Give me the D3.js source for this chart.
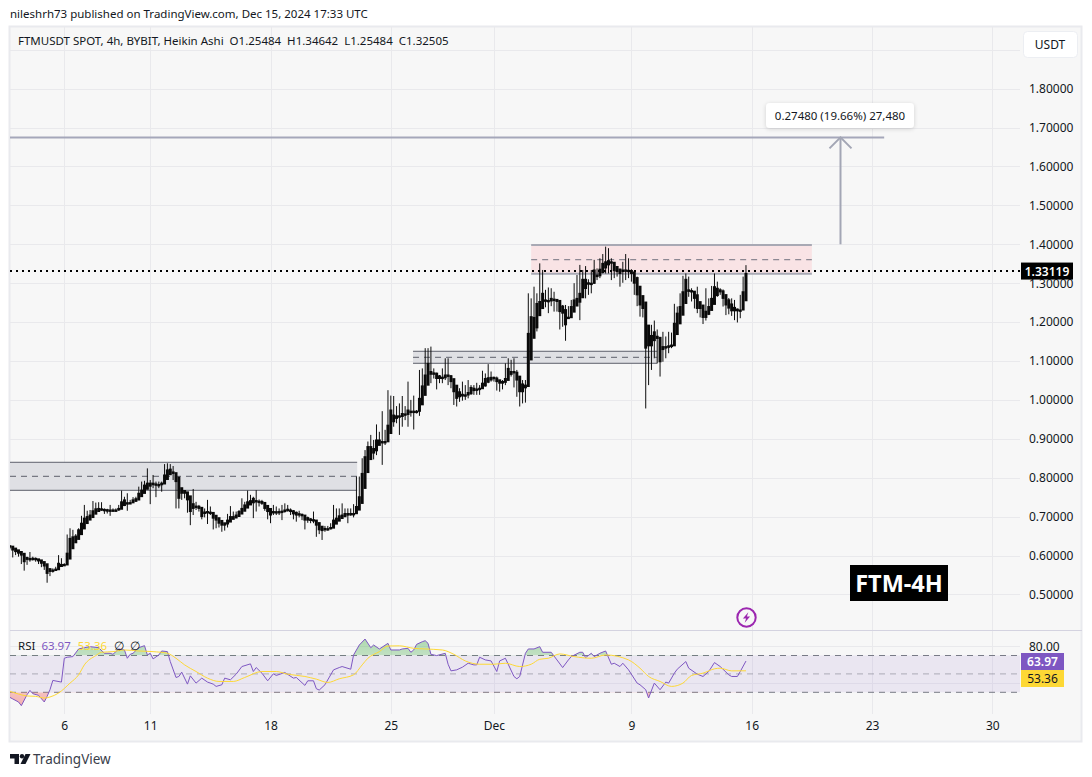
<!DOCTYPE html>
<html>
<head>
<meta charset="utf-8">
<script src="https://d3js.org/d3.v7.min.js"></script>
<style>
  html, body { margin: 0; padding: 0; background: #fff; }
  svg { display: block; }
  text { font-family: "Noto Sans", sans-serif; fill: #131722; }
</style>
</head>
<body>
<div id="chart"></div>
<script>
// 4h Heikin Ashi bars. First bar sits just left of the pane
const barStart = Date.UTC(2024, 10, 2, 16)
const rsiStart = Date.UTC(2024, 10, 2, 20)
const barHours = 4

const closes = [
  0.625, 0.623, 0.614, 0.610, 0.606, 0.601, 0.584, 0.590, 0.592, 0.593, 0.590, 0.586, 0.580, 0.573, 0.554, 0.559,
  0.561, 0.565, 0.580, 0.577, 0.577, 0.606, 0.644, 0.648, 0.650, 0.666, 0.683, 0.696, 0.700, 0.704, 0.715, 0.720,
  0.721, 0.720, 0.717, 0.714, 0.717, 0.717, 0.717, 0.721, 0.738, 0.743, 0.734, 0.736, 0.743, 0.746, 0.760, 0.768,
  0.781, 0.786, 0.786, 0.786, 0.781, 0.781, 0.786, 0.807, 0.820, 0.822, 0.811, 0.790, 0.747, 0.760, 0.760, 0.743,
  0.713, 0.721, 0.726, 0.721, 0.700, 0.708, 0.713, 0.710, 0.696, 0.691, 0.683, 0.678, 0.678, 0.691, 0.700, 0.700,
  0.704, 0.713, 0.721, 0.730, 0.738, 0.741, 0.747, 0.738, 0.738, 0.734, 0.721, 0.713, 0.704, 0.713, 0.710, 0.713,
  0.714, 0.717, 0.719, 0.713, 0.707, 0.704, 0.704, 0.702, 0.691, 0.691, 0.690, 0.690, 0.678, 0.666, 0.664, 0.667,
  0.669, 0.672, 0.691, 0.696, 0.702, 0.704, 0.708, 0.708, 0.708, 0.708, 0.726, 0.751, 0.811, 0.854, 0.880,
  0.880, 0.875, 0.897, 0.897, 0.893, 0.893, 0.935, 0.974, 0.961, 0.959, 0.959, 0.965, 0.964, 0.974, 0.971, 0.971,
  0.971, 1.004, 1.036, 1.064, 1.094, 1.073, 1.068, 1.055, 1.055, 1.055, 1.064, 1.064, 1.047, 1.021, 1.004, 1.008,
  1.010, 1.013, 1.019, 1.032, 1.030, 1.028, 1.030, 1.043, 1.055, 1.057, 1.058, 1.058, 1.047, 1.043, 1.043, 1.055,
  1.081, 1.073, 1.073, 1.051, 1.021, 1.021, 1.038,
  1.171, 1.214, 1.212, 1.248, 1.253, 1.274, 1.257, 1.253, 1.261, 1.259, 1.253, 1.227, 1.223, 1.193, 1.210, 1.240,
  1.257, 1.261, 1.274, 1.310, 1.310, 1.301, 1.300, 1.334, 1.321, 1.336, 1.351, 1.355, 1.358, 1.355, 1.332, 1.330,
  1.325, 1.334, 1.334, 1.332, 1.325, 1.300, 1.270, 1.244, 1.235, 1.133, 1.139, 1.139, 1.175, 1.158, 1.098, 1.137,
  1.137, 1.139, 1.141, 1.197, 1.223, 1.240, 1.278, 1.310, 1.283, 1.278, 1.261, 1.235, 1.235, 1.212, 1.212, 1.240,
  1.261, 1.291, 1.287, 1.283, 1.261, 1.244, 1.236, 1.229, 1.229, 1.229, 1.231, 1.278, 1.32505
]

const highs = [
  0.630, 0.627, 0.621, 0.618, 0.610, 0.606, 0.597, 0.597, 0.609, 0.597, 0.595, 0.590, 0.587, 0.580, 0.567, 0.563,
  0.567, 0.571, 0.601, 0.593, 0.580, 0.654, 0.670, 0.666, 0.655, 0.670, 0.702, 0.730, 0.715, 0.717, 0.740, 0.736,
  0.737, 0.737, 0.721, 0.720, 0.730, 0.721, 0.721, 0.730, 0.767, 0.751, 0.760, 0.743, 0.750, 0.751, 0.777, 0.790,
  0.792, 0.824, 0.794, 0.807, 0.790, 0.790, 0.790, 0.835, 0.837, 0.835, 0.830, 0.796, 0.768, 0.768, 0.764, 0.751,
  0.734, 0.771, 0.738, 0.730, 0.721, 0.721, 0.743, 0.726, 0.704, 0.696, 0.691, 0.683, 0.683, 0.707, 0.727, 0.713,
  0.713, 0.717, 0.747, 0.738, 0.767, 0.756, 0.751, 0.768, 0.744, 0.743, 0.732, 0.721, 0.717, 0.730, 0.726, 0.721,
  0.730, 0.734, 0.730, 0.721, 0.717, 0.713, 0.715, 0.708, 0.704, 0.700, 0.696, 0.713, 0.691, 0.678, 0.672, 0.676,
  0.676, 0.683, 0.730, 0.721, 0.721, 0.734, 0.721, 0.721, 0.721, 0.732, 0.803, 0.803, 0.850, 0.871, 0.893,
  0.910, 0.897, 0.937, 0.918, 0.971, 0.923, 1.025, 1.011, 1.010, 0.984, 0.991, 1.010, 0.984, 1.047, 1.000, 1.011,
  0.974, 1.077, 1.081, 1.133, 1.133, 1.137, 1.081, 1.070, 1.064, 1.081, 1.107, 1.107, 1.064, 1.051, 1.038, 1.030,
  1.047, 1.038, 1.051, 1.038, 1.038, 1.044, 1.038, 1.075, 1.068, 1.092, 1.073, 1.060, 1.060, 1.051, 1.051, 1.094,
  1.107, 1.103, 1.107, 1.077, 1.055, 1.051, 1.051,
  1.274, 1.261, 1.291, 1.274, 1.351, 1.334, 1.283, 1.289, 1.287, 1.278, 1.257, 1.244, 1.244, 1.244, 1.241, 1.257,
  1.300, 1.321, 1.347, 1.334, 1.344, 1.310, 1.334, 1.360, 1.338, 1.364, 1.375, 1.394, 1.390, 1.364, 1.343, 1.341,
  1.336, 1.355, 1.375, 1.364, 1.336, 1.321, 1.317, 1.267, 1.253, 1.238, 1.145, 1.193, 1.204, 1.181, 1.145, 1.175,
  1.163, 1.175, 1.173, 1.247, 1.240, 1.274, 1.319, 1.325, 1.317, 1.287, 1.274, 1.291, 1.244, 1.244, 1.287, 1.261,
  1.293, 1.325, 1.304, 1.287, 1.284, 1.265, 1.262, 1.261, 1.257, 1.235, 1.270, 1.317, 1.34642
]

const lows = [
  0.618, 0.616, 0.595, 0.601, 0.597, 0.578, 0.561, 0.576, 0.584, 0.587, 0.584, 0.578, 0.570, 0.563, 0.530, 0.547,
  0.556, 0.561, 0.567, 0.573, 0.576, 0.595, 0.621, 0.640, 0.644, 0.653, 0.667, 0.687, 0.691, 0.698, 0.704, 0.713,
  0.715, 0.715, 0.707, 0.708, 0.702, 0.713, 0.713, 0.715, 0.727, 0.727, 0.715, 0.732, 0.736, 0.738, 0.751, 0.758,
  0.767, 0.770, 0.732, 0.773, 0.750, 0.773, 0.764, 0.786, 0.807, 0.807, 0.794, 0.721, 0.721, 0.743, 0.747, 0.710,
  0.678, 0.704, 0.717, 0.713, 0.693, 0.698, 0.681, 0.704, 0.667, 0.670, 0.672, 0.661, 0.664, 0.672, 0.691, 0.693,
  0.696, 0.707, 0.713, 0.721, 0.730, 0.734, 0.696, 0.713, 0.726, 0.730, 0.715, 0.693, 0.683, 0.704, 0.704, 0.704,
  0.691, 0.710, 0.713, 0.704, 0.693, 0.687, 0.698, 0.691, 0.667, 0.684, 0.683, 0.683, 0.648, 0.655, 0.640, 0.661,
  0.664, 0.667, 0.683, 0.687, 0.696, 0.698, 0.704, 0.683, 0.702, 0.698, 0.710, 0.744, 0.773, 0.833, 0.863,
  0.871, 0.847, 0.858, 0.893, 0.833, 0.884, 0.893, 0.923, 0.931, 0.940, 0.910, 0.931, 0.948, 0.931, 0.957, 0.924,
  0.965, 0.959, 0.987, 1.038, 1.060, 1.043, 1.055, 1.027, 1.043, 1.043, 1.051, 1.038, 1.030, 0.987, 0.983, 0.995,
  0.998, 1.000, 1.004, 1.013, 1.013, 1.013, 1.013, 1.030, 1.034, 1.043, 1.047, 1.047, 1.024, 1.021, 1.027, 1.038,
  1.051, 1.060, 1.032, 1.008, 0.983, 0.991, 0.993,
  1.103, 1.163, 1.180, 1.176, 1.218, 1.238, 1.238, 1.223, 1.241, 1.227, 1.227, 1.181, 1.188, 1.152, 1.210, 1.218,
  1.235, 1.244, 1.205, 1.270, 1.261, 1.270, 1.274, 1.298, 1.308, 1.313, 1.325, 1.325, 1.325, 1.308, 1.313, 1.317,
  1.291, 1.301, 1.308, 1.313, 1.304, 1.270, 1.241, 1.214, 1.212, 0.978, 1.038, 1.077, 1.107, 1.094, 1.060, 1.098,
  1.107, 1.120, 1.133, 1.141, 1.167, 1.197, 1.223, 1.253, 1.265, 1.253, 1.235, 1.223, 1.212, 1.195, 1.204, 1.218,
  1.240, 1.267, 1.265, 1.270, 1.240, 1.218, 1.220, 1.216, 1.205, 1.199, 1.210, 1.231, 1.25484
]

// RSI and its moving average, vertices as [bar number] + [value]
const rsiBars = [
  0, 1, 3, 4, 6, 7, 8, 10, 12, 13, 14, 15, 18, 19, 20, 22, 24, 26, 28, 31, 33, 35, 36, 38, 40, 41, 42, 43, 45, 47, 48, 49,
  50, 52, 53, 55, 56, 58, 59, 60, 62, 63, 65, 67, 69, 71, 72, 74, 75, 77, 79, 81, 84, 85, 86, 88, 90, 92, 93, 96, 99, 100,
  103, 104, 106, 107, 108, 110, 113, 115, 116, 119, 120, 122, 124, 126, 127, 129, 132, 133, 136, 137, 139, 140, 141, 142,
  144, 145, 146, 147, 149, 152, 153, 154, 156, 158, 160, 162, 163, 164, 166, 168, 170, 171, 173, 176, 177, 178, 180, 181,
  183, 185, 186, 189, 191, 193, 195, 196, 199, 200, 201, 203, 204, 206, 208, 210, 211, 213, 214, 216, 219, 220, 222, 223,
  225, 227, 229, 230, 232, 233, 236, 237, 240, 242, 244, 246, 248, 251, 252, 254, 255, 257
]
const rsiValues = [
  24.5, 22.8, 19.5, 15.5, 27.4, 32.1, 28.5, 26.7, 19.5, 25.6, 32.8, 42.9, 41.1, 67, 68.1, 68.8, 77.1, 78.5, 79.6, 78.5, 72.4, 72.4,
  71.3, 77.1, 76, 67, 71.3, 72.4, 78.5, 80.7, 70.6, 72.4, 66.3, 70.6, 74.9, 74.2, 63.4, 46.1, 47.2, 51.9, 38.9, 47.9, 40, 45.4, 41.1,
  38.9, 36.4, 38.2, 45.4, 43.6, 49.7, 58, 60.9, 52.6, 56.9, 50.8, 42.5, 50.1, 48.3, 51.5, 45.4, 46.1, 37.5, 42.5, 42.5, 33.9, 32.4,
  38.2, 54.4, 56.9, 58, 55.1, 70.6, 81.4, 87.9, 78.5, 81.4, 77.1, 83.2, 76, 76, 77.1, 77.8, 73.5, 76, 82.1, 85, 86.1, 83.2, 71.3,
  69.9, 72.4, 60.5, 53.3, 54.4, 57.3, 61.6, 59.8, 59.8, 68.1, 65.2, 64.1, 52.6, 64.1, 67, 47.2, 44.7, 47.2, 72.4, 77.1, 77.1, 79.6,
  73.5, 73.5, 65.2, 56.9, 65.2, 68.8, 73.5, 73.5, 67.7, 72.4, 68.8, 72.4, 74.9, 60.5, 61.6, 58, 61.6, 54.4, 40, 38.2, 32.8, 23.8,
  40, 32.8, 41.1, 40, 50.8, 55.1, 63.4, 56.2, 49.7, 47.2, 52.6, 62.3, 58, 49, 47.2, 47.2, 52.6, 63.97
]
const maBars = [
  0, 3, 6, 9, 12, 14, 17, 21, 24, 26, 30, 32, 36, 40, 45, 50, 55, 58, 61, 65, 69, 73, 78, 82, 88, 93, 97, 103, 107, 111, 115, 120,
  123, 125, 129, 132, 136, 141, 145, 151, 155, 159, 164, 169, 173, 178, 182, 185, 188, 192, 197, 203, 208, 216, 220, 223, 227, 231,
  235, 238, 242, 246, 248, 252, 257
]
const maValues = [
  31, 28.1, 26, 25.6, 23.8, 24.9, 29.2, 40, 49, 59.8, 69.9, 73.5, 74.2, 76, 74.9, 74.2, 72.4, 67, 59.8, 52.6, 45.4, 41.8, 41.8, 46.1,
  52.6, 52.6, 49.7, 47.2, 44.3, 40.7, 44.7, 49, 59.8, 67, 74.2, 80.3, 80.5, 77.8, 77.1, 76, 71.3, 64.1, 60.5, 60.5, 61.6, 58, 60.5,
  65.9, 67, 71.7, 68.8, 67, 70.6, 65.2, 56.2, 47.2, 41.8, 36.4, 40, 48.3, 50.8, 55.5, 56.2, 53.3, 53.36
]

// axis ticks
const priceTicks = [0.5, 0.6, 0.7, 0.8, 0.9, 1.0, 1.1, 1.2, 1.3, 1.4, 1.5, 1.6, 1.7, 1.8]
const priceGridExtra = [1.9]
const timeTicks = [
  Date.UTC(2024, 10, 6), Date.UTC(2024, 10, 11), Date.UTC(2024, 10, 18), Date.UTC(2024, 10, 25),
  Date.UTC(2024, 11, 1), Date.UTC(2024, 11, 9), Date.UTC(2024, 11, 16), Date.UTC(2024, 11, 23), Date.UTC(2024, 11, 30)
]
const timeLabels = ["6", "11", "18", "25", "Dec", "9", "16", "23", "30"]
const rsiTicks = [80, 40]

// drawn zones: [start, end, top, mid, bottom]
const zoneLow = [Date.UTC(2024, 9, 30), Date.UTC(2024, 10, 23, 1), 0.8396, 0.8036, 0.7676]
const zoneMid = [Date.UTC(2024, 10, 26, 7), Date.UTC(2024, 11, 10, 12), 1.125, 1.1095, 1.0941]
const zoneHigh = [Date.UTC(2024, 11, 3, 4), Date.UTC(2024, 11, 19, 12), 1.398, 1.3604, 1.3244]

// target line and the arrow up to it
const targetLine = [Date.UTC(2024, 9, 30), Date.UTC(2024, 11, 23, 17), 1.6748]
const arrowTime = Date.UTC(2024, 11, 21, 4)
const arrowFrom = 1.4
const lastPrice = 1.33119

const legendText = "FTMUSDT SPOT, 4h, BYBIT, Heikin Ashi\u00a0\u00a0O1.25484\u00a0\u00a0H1.34642\u00a0\u00a0L1.25484\u00a0\u00a0C1.32505"

const width = 1092, height = 777
const frame = { left: 10, right: 1081, top: 27, bottom: 741 }
const plotRight = 1020
const paneBreak = 630.5
const gridBottom = 714
const gridColor = "#e9e9ec"
const labelSize = 11.5

const svg = d3.select("#chart").append("svg")
  .attr("width", width)
  .attr("height", height)

const defs = svg.append("defs")
defs.append("clipPath").attr("id", "priceClip").append("rect")
  .attr("x", frame.left).attr("y", frame.top)
  .attr("width", plotRight - frame.left).attr("height", paneBreak - frame.top)
defs.append("clipPath").attr("id", "rsiClip").append("rect")
  .attr("x", frame.left).attr("y", paneBreak)
  .attr("width", plotRight - frame.left).attr("height", gridBottom - paneBreak)

const green = defs.append("linearGradient").attr("id", "obFill").attr("x1", 0).attr("x2", 0).attr("y1", 0).attr("y2", 1)
green.append("stop").attr("offset", "0%").attr("stop-color", "#4caf50").attr("stop-opacity", 0.42)
green.append("stop").attr("offset", "100%").attr("stop-color", "#4caf50").attr("stop-opacity", 0)
const red = defs.append("linearGradient").attr("id", "osFill").attr("x1", 0).attr("x2", 0).attr("y1", 0).attr("y2", 1)
red.append("stop").attr("offset", "0%").attr("stop-color", "#ef5350").attr("stop-opacity", 0)
red.append("stop").attr("offset", "100%").attr("stop-color", "#ef5350").attr("stop-opacity", 0.42)

const shadow = defs.append("filter").attr("id", "boxShadow").attr("x", "-10%").attr("y", "-30%").attr("width", "120%").attr("height", "170%")
shadow.append("feDropShadow").attr("dx", 0).attr("dy", 1).attr("stdDeviation", 2).attr("flood-color", "#000").attr("flood-opacity", 0.16)

// scales
const x = d3.scaleUtc()
  .domain([Date.UTC(2024, 10, 6), Date.UTC(2024, 11, 30)])
  .range([64.3, 992.3])
const y = d3.scaleLinear().domain([0.5, 1.4]).range([594.4, 244.3])
const yRsi = d3.scaleLinear().domain([30, 80]).range([692.3, 646.3])
const barTime = i => barStart + i * barHours * 3600 * 1000
const rsiTime = i => rsiStart + i * barHours * 3600 * 1000

// bars, open is the usual Heikin Ashi running mean
const bars = []
closes.forEach((c, i) => {
  const prev = bars[i - 1]
  const open = prev ? (prev.open + prev.close) / 2 : c
  bars.push({ time: barTime(i), open: open, close: c, high: highs[i], low: lows[i] })
})
bars[bars.length - 1].open = 1.25484

// frame
svg.append("rect")
  .attr("x", frame.left - 0.5).attr("y", frame.top - 0.5)
  .attr("width", frame.right - frame.left + 1).attr("height", frame.bottom - frame.top + 1)
  .attr("fill", "#f7f7f7").attr("stroke", "#e9eaee").attr("stroke-width", 2)

svg.append("text").attr("x", 10).attr("y", 18).attr("font-size", labelSize)
  .text("nileshrh73 published on TradingView.com, Dec 15, 2024 17:33 UTC")

// grid
svg.append("g").selectAll("line").data(priceTicks.concat(priceGridExtra)).enter().append("line")
  .attr("x1", frame.left).attr("x2", plotRight)
  .attr("y1", d => Math.round(y(d)) + 0.5).attr("y2", d => Math.round(y(d)) + 0.5)
  .attr("stroke", gridColor)
svg.append("g").selectAll("line").data(timeTicks).enter().append("line")
  .attr("x1", d => Math.round(x(d)) + 0.5).attr("x2", d => Math.round(x(d)) + 0.5)
  .attr("y1", frame.top).attr("y2", gridBottom)
  .attr("stroke", gridColor)
svg.append("g").selectAll("line").data(rsiTicks).enter().append("line")
  .attr("x1", frame.left).attr("x2", plotRight)
  .attr("y1", d => Math.round(yRsi(d)) + 0.5).attr("y2", d => Math.round(yRsi(d)) + 0.5)
  .attr("stroke", gridColor)

// zones
const zones = svg.append("g").attr("clip-path", "url(#priceClip)")
function drawZone(z, fill, edge, edgeW, dash) {
  const x0 = x(z[0]), x1 = x(z[1])
  zones.append("rect").attr("x", x0).attr("width", x1 - x0)
    .attr("y", y(z[2])).attr("height", y(z[4]) - y(z[2])).attr("fill", fill)
  ;[z[2], z[4]].forEach(v => {
    zones.append("line").attr("x1", x0).attr("x2", x1).attr("y1", y(v)).attr("y2", y(v))
      .attr("stroke", edge).attr("stroke-width", edgeW)
  })
  zones.append("line").attr("x1", x0).attr("x2", x1).attr("y1", y(z[3])).attr("y2", y(z[3]))
    .attr("stroke", dash).attr("stroke-dasharray", "6 5")
}
drawZone(zoneLow, "#dfe0e4", "#5d606b", 1, "#5d606b")
drawZone(zoneMid, "#dfe0e4", "#5d606b", 1, "#5d606b")
drawZone(zoneHigh, "#f9e3e5", "#a8a9b4", 2, "#70727e")

// target line
svg.append("line")
  .attr("x1", x(targetLine[0])).attr("x2", x(targetLine[1]))
  .attr("y1", y(targetLine[2])).attr("y2", y(targetLine[2]))
  .attr("clip-path", "url(#priceClip)")
  .attr("stroke", "#a5a7ba").attr("stroke-width", 2)

// candles
const candles = svg.append("g").attr("clip-path", "url(#priceClip)")
candles.selectAll("line").data(bars).enter().append("line")
  .attr("x1", d => x(d.time)).attr("x2", d => x(d.time))
  .attr("y1", d => y(d.high)).attr("y2", d => y(d.low))
  .attr("stroke", "#0d0d0d").attr("stroke-width", 1)
candles.selectAll("rect").data(bars).enter().append("rect")
  .attr("x", d => x(d.time) - 1.5).attr("width", 3)
  .attr("y", d => Math.min(y(d.open), y(d.close)) - 0.5)
  .attr("height", d => Math.max(2.4, Math.abs(y(d.open) - y(d.close)) + 1))
  .attr("fill", "#0a0a0a")

// last price
svg.append("line")
  .attr("x1", frame.left).attr("x2", plotRight)
  .attr("y1", y(lastPrice)).attr("y2", y(lastPrice))
  .attr("stroke", "#000").attr("stroke-width", 2).attr("stroke-dasharray", "2 4")

// arrow
const ax = x(arrowTime)
const arrowColor = "#a3a6b5"
svg.append("line").attr("x1", ax).attr("x2", ax).attr("y1", y(arrowFrom)).attr("y2", y(targetLine[2]))
  .attr("stroke", arrowColor).attr("stroke-width", 2)
svg.append("path")
  .attr("d", d3.line()([[ax - 11, y(targetLine[2]) + 11], [ax, y(targetLine[2])], [ax + 11, y(targetLine[2]) + 11]]))
  .attr("fill", "none").attr("stroke", arrowColor).attr("stroke-width", 2)

// measure label
const tip = svg.append("g")
tip.append("rect").attr("x", 766).attr("y", 103).attr("width", 148).attr("height", 25).attr("rx", 4)
  .attr("fill", "#fff").attr("filter", "url(#boxShadow)")
tip.append("text").attr("x", 840).attr("y", 119.5).attr("text-anchor", "middle").attr("font-size", labelSize)
  .text("0.27480 (19.66%) 27,480")

// rsi pane
svg.append("line").attr("x1", frame.left).attr("x2", frame.right + 1).attr("y1", paneBreak).attr("y2", paneBreak)
  .attr("stroke", "#d4d3e0").attr("stroke-width", 1)
svg.append("rect").attr("x", frame.left).attr("width", plotRight - frame.left)
  .attr("y", yRsi(70)).attr("height", yRsi(30) - yRsi(70))
  .attr("fill", "#7e57c2").attr("fill-opacity", 0.1)
;[70, 30].forEach(v => {
  svg.append("line").attr("x1", frame.left).attr("x2", plotRight).attr("y1", yRsi(v)).attr("y2", yRsi(v))
    .attr("stroke", "#787b86").attr("stroke-dasharray", "6 5")
})
svg.append("line").attr("x1", frame.left).attr("x2", plotRight).attr("y1", yRsi(50)).attr("y2", yRsi(50))
  .attr("stroke", "#787b86").attr("stroke-opacity", 0.55).attr("stroke-dasharray", "6 5")

const rsiPoints = rsiBars.map((b, i) => [x(rsiTime(b)), rsiValues[i]])
const maPoints = maBars.map((b, i) => [x(rsiTime(b)), maValues[i]])
const rsiArea = d3.area().x(d => d[0]).y1(d => yRsi(d[1]))

defs.append("clipPath").attr("id", "aboveBand").append("rect")
  .attr("x", frame.left).attr("width", plotRight - frame.left).attr("y", yRsi(90)).attr("height", yRsi(70) - yRsi(90))
defs.append("clipPath").attr("id", "belowBand").append("rect")
  .attr("x", frame.left).attr("width", plotRight - frame.left).attr("y", yRsi(30)).attr("height", yRsi(10) - yRsi(30))
svg.append("path").datum(rsiPoints)
  .attr("d", rsiArea.y0(yRsi(70))).attr("clip-path", "url(#aboveBand)").attr("fill", "url(#obFill)")
svg.append("path").datum(rsiPoints)
  .attr("d", rsiArea.y0(yRsi(30))).attr("clip-path", "url(#belowBand)").attr("fill", "url(#osFill)")

const rsiLine = d3.line().x(d => d[0]).y(d => yRsi(d[1]))
const rsiG = svg.append("g").attr("clip-path", "url(#rsiClip)")
rsiG.append("path").datum(rsiPoints).attr("d", rsiLine).attr("fill", "none").attr("stroke", "#7e57c2").attr("stroke-width", 1)
rsiG.append("path").datum(maPoints).attr("d", rsiLine.curve(d3.curveMonotoneX)).attr("fill", "none").attr("stroke", "#fdd835").attr("stroke-width", 1)

// price axis labels
const priceAxis = d3.axisRight(y).tickValues(priceTicks).tickFormat(d3.format(".5f")).tickSize(0).tickPadding(0)
const priceG = svg.append("g").attr("transform", "translate(1029,0)").call(priceAxis)
priceG.select(".domain").remove()
priceG.selectAll("text").attr("font-size", labelSize + 0.5).attr("font-family", "Noto Sans").style("fill", "#131722")

const rsiAxisG = svg.append("g").attr("transform", "translate(1029,0)")
  .call(d3.axisRight(yRsi).tickValues(rsiTicks).tickFormat(d3.format(".2f")).tickSize(0).tickPadding(0))
rsiAxisG.select(".domain").remove()
rsiAxisG.selectAll("text").attr("font-size", labelSize + 0.5).attr("font-family", "Noto Sans").style("fill", "#131722")

// time axis labels
const timeAxis = d3.axisBottom(x).tickValues(timeTicks)
  .tickFormat((d, i) => timeLabels[i]).tickSize(0).tickPadding(0)
const timeG = svg.append("g").attr("transform", "translate(0,721)").call(timeAxis)
timeG.select(".domain").remove()
timeG.selectAll("text").attr("font-size", labelSize + 0.5).attr("font-family", "Noto Sans").style("fill", "#131722")

// value tags
function tag(v, fmt, fill, color, top, h, left, w, weight) {
  svg.append("rect").attr("x", left).attr("y", top).attr("width", w).attr("height", h).attr("fill", fill)
  svg.append("text").attr("x", left + w / 2).attr("y", top + h / 2 + 4.5).attr("text-anchor", "middle")
    .attr("font-size", 12).attr("font-weight", weight || 400).style("fill", color).text(d3.format(fmt)(v))
}
tag(lastPrice, ".5f", "#000", "#fff", y(lastPrice) - 8.5, 17, 1021, 52, 600)
tag(rsiValues[rsiValues.length - 1], ".2f", "#7e57c2", "#fff", 653, 17, 1021, 43, 600)
tag(maValues[maValues.length - 1], ".2f", "#fdd835", "#131722", 670, 17, 1021, 43)

// legend lines
svg.append("text").attr("x", 18).attr("y", 45).attr("font-size", labelSize).text(legendText)
const rsiLegend = svg.append("text").attr("x", 18).attr("y", 650).attr("font-size", labelSize)
rsiLegend.append("tspan").text("RSI")
rsiLegend.append("tspan").attr("dx", 6).style("fill", "#7e57c2").text("63.97")
rsiLegend.append("tspan").attr("dx", 7).style("fill", "#fdd835").text("53.36")
rsiLegend.append("tspan").attr("dx", 7).text("\u2205")
rsiLegend.append("tspan").attr("dx", 6).text("\u2205")

// currency button
svg.append("rect").attr("x", 1023.5).attr("y", 31.5).attr("width", 54).attr("height", 26).attr("rx", 4)
  .attr("fill", "#fff").attr("stroke", "#eceef2")
svg.append("text").attr("x", 1050).attr("y", 49).attr("text-anchor", "middle").attr("font-size", 12).text("USDT")

// timeframe stamp
svg.append("rect").attr("x", 850).attr("y", 565).attr("width", 98).attr("height", 36).attr("fill", "#000")
svg.append("text").attr("x", 899).attr("y", 591.5).attr("text-anchor", "middle")
  .attr("font-family", "Liberation Sans").attr("font-weight", 700).attr("font-size", 23.5)
  .style("fill", "#fff").text("FTM-4H")

// news flash badge
const badge = svg.append("g").attr("transform", "translate(746.5,617.5)")
badge.append("circle").attr("r", 9.2).attr("fill", "#f7f7f7").attr("stroke", "#9c27b0").attr("stroke-width", 2)
badge.append("path").attr("d", "M1.8,-5.2 L-3.6,1 L-0.4,1 L-1.8,5.2 L3.6,-1 L0.4,-1 Z").attr("fill", "#9c27b0")

// footer logo
const logo = svg.append("g").attr("transform", "translate(10,754)").attr("fill", "#131722")
logo.append("path").attr("d", "M0,0 H9 V10 H4.5 V4.5 H0 Z")
logo.append("circle").attr("cx", 12).attr("cy", 2.2).attr("r", 2.2)
logo.append("path").attr("d", "M15.5,0 H20.5 L15.5,10 H10.5 Z")
svg.append("text").attr("x", 33).attr("y", 764).attr("font-size", 13.5).style("fill", "#3a3e4a").text("TradingView")
</script>
</body>
</html>
